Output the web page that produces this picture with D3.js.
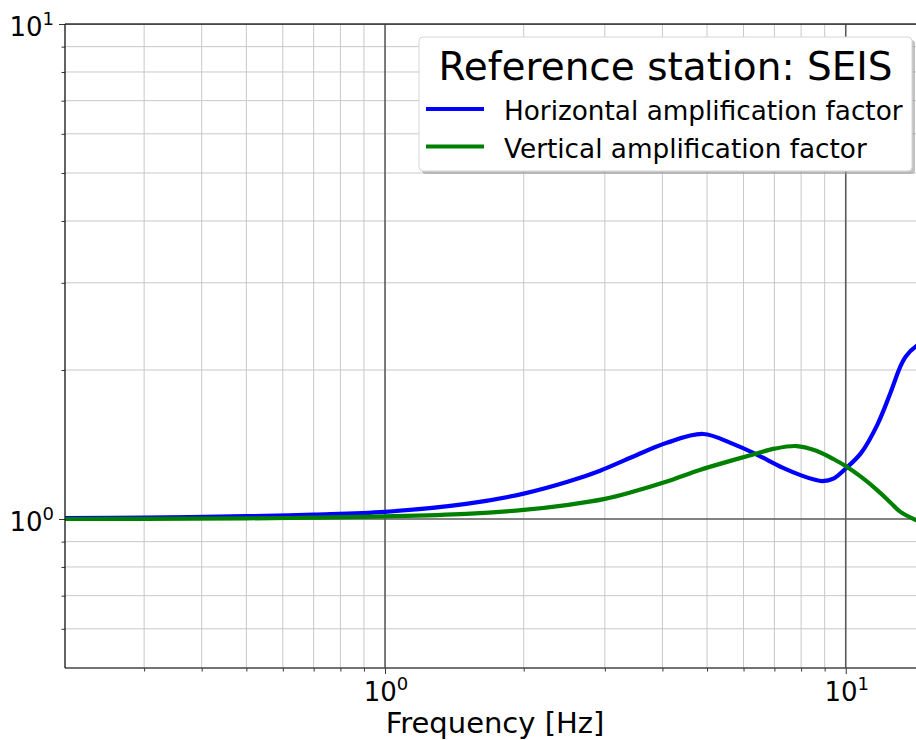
<!DOCTYPE html>
<html><head><meta charset="utf-8">
<script src="https://cdn.jsdelivr.net/npm/d3@7"></script>
<style>
body{margin:0;background:#fff;}
text{font-family:"DejaVu Sans",sans-serif;fill:#000;}
</style>
</head><body>
<svg id="c" width="916" height="740"></svg>
<script>
// ---- data ----
const freqH = [0.2, 0.3, 0.5, 0.7, 1.0, 1.5, 2.0, 2.5, 2.93, 3.45, 4.09, 4.9, 5.69, 6.38, 7.29, 8.0, 8.5, 8.9, 9.4, 10.05, 10.8, 11.7, 12.5, 13.1, 13.5, 14.2, 14.9];
const ampH  = [1.004, 1.007, 1.013, 1.021, 1.034, 1.073, 1.125, 1.19, 1.252, 1.336, 1.425, 1.485, 1.418, 1.352, 1.27, 1.225, 1.203, 1.193, 1.206, 1.27, 1.36, 1.548, 1.797, 2.02, 2.13, 2.23, 2.27];
const freqV = [0.2, 0.3, 0.5, 0.7, 1.0, 1.5, 2.0, 2.5, 3.0, 3.45, 4.09, 4.82, 5.69, 6.38, 7.0, 7.82, 8.6, 9.4, 10.05, 10.8, 11.7, 12.5, 13.1, 14.2, 14.9];
const ampV  = [1.0, 1.001, 1.003, 1.006, 1.012, 1.024, 1.043, 1.068, 1.098, 1.135, 1.19, 1.256, 1.315, 1.355, 1.387, 1.404, 1.375, 1.322, 1.275, 1.216, 1.144, 1.08, 1.036, 0.995, 0.978];
const xMajorTicks = [1, 10];
const xMinorTicks = [0.3, 0.4, 0.5, 0.6, 0.7, 0.8, 0.9, 2, 3, 4, 5, 6, 7, 8, 9];
const yMajorTicks = [1, 10];
const yMinorTicks = [0.6, 0.7, 0.8, 0.9, 2, 3, 4, 5, 6, 7, 8, 9];
const majorExp = ["0", "1"];
const legendTitle = "Reference station: SEIS";
const seriesNames = ["Horizontal amplification factor", "Vertical amplification factor"];
const seriesColors = ["#0000ff", "#008000"];
const xLabel = "Frequency [Hz]";

// ---- layout ----
const L = 65, R = 925, T = 24, B = 668;
const svg = d3.select("#c");
const x = d3.scaleLog().domain([0.202, 14.86]).range([L, R]);
const y = d3.scaleLog().domain([0.5, 10]).range([B, T]);

svg.append("defs").append("clipPath").attr("id", "clip")
  .append("rect").attr("x", L).attr("y", T).attr("width", R - L).attr("height", B - T);

// grid
const g = svg.append("g").attr("clip-path", "url(#clip)");
g.selectAll(".xmin").data(xMinorTicks).join("line")
  .attr("x1", d => x(d)).attr("x2", d => x(d)).attr("y1", T).attr("y2", B)
  .attr("stroke", "#c8c8c8").attr("stroke-width", 1);
g.selectAll(".ymin").data(yMinorTicks).join("line")
  .attr("x1", L).attr("x2", R).attr("y1", d => y(d)).attr("y2", d => y(d))
  .attr("stroke", "#c8c8c8").attr("stroke-width", 1);
g.selectAll(".xmaj").data(xMajorTicks).join("line")
  .attr("x1", d => x(d)).attr("x2", d => x(d)).attr("y1", T).attr("y2", B)
  .attr("stroke", "#5a5a5a").attr("stroke-width", 1.6);
g.selectAll(".ymaj").data(yMajorTicks).join("line")
  .attr("x1", L).attr("x2", R).attr("y1", d => y(d)).attr("y2", d => y(d))
  .attr("stroke", "#5a5a5a").attr("stroke-width", 1.6);

// curves
const line = d3.line().curve(d3.curveCatmullRom.alpha(0.5));
const series = [
  {f: freqH, a: ampH, c: seriesColors[0]},
  {f: freqV, a: ampV, c: seriesColors[1]}
];
series.forEach(s => {
  g.append("path")
    .attr("d", line(s.f.map((f, i) => [x(f), y(s.a[i])])))
    .attr("fill", "none").attr("stroke", s.c).attr("stroke-width", 4.2)
    .attr("stroke-linejoin", "round").attr("stroke-linecap", "butt");
});

// axes (ticks)
const xMinAx = svg.append("g").attr("transform", `translate(0,${B})`)
  .call(d3.axisBottom(x).tickValues(xMinorTicks).tickSize(3.5).tickFormat(() => ""));
const xMajAx = svg.append("g").attr("transform", `translate(0,${B})`)
  .call(d3.axisBottom(x).tickValues(xMajorTicks).tickSize(6).tickFormat(() => ""));
const yMinAx = svg.append("g").attr("transform", `translate(${L},0)`)
  .call(d3.axisLeft(y).tickValues(yMinorTicks).tickSize(3.5).tickFormat(() => ""));
const yMajAx = svg.append("g").attr("transform", `translate(${L},0)`)
  .call(d3.axisLeft(y).tickValues(yMajorTicks).tickSize(6).tickFormat(() => ""));
[xMinAx, xMajAx, yMinAx, yMajAx].forEach(a => {
  a.select(".domain").remove();
  a.selectAll(".tick line").attr("stroke", "#333").attr("stroke-width", 1);
});

// spines
svg.append("line").attr("x1", L).attr("x2", R).attr("y1", B).attr("y2", B)
  .attr("stroke", "#444").attr("stroke-width", 1.4);
svg.append("line").attr("x1", L).attr("x2", R).attr("y1", T).attr("y2", T)
  .attr("stroke", "#333").attr("stroke-width", 1.4);
svg.append("line").attr("x1", L).attr("x2", L).attr("y1", T).attr("y2", B)
  .attr("stroke", "#222").attr("stroke-width", 1.4);

// tick labels with superscripts
function sciLabel(sel, exp) {
  sel.append("tspan").attr("font-size", 26).text("10");
  sel.append("tspan").attr("font-size", 18).attr("dy", -11).text(exp);
}
xMajorTicks.forEach((v, i) => {
  const t = svg.append("text").attr("x", x(v) + 1).attr("y", B + 33).attr("text-anchor", "middle");
  sciLabel(t, majorExp[i]);
});
yMajorTicks.forEach((v, i) => {
  const t = svg.append("text").attr("x", L - 11).attr("y", y(v) + 12).attr("text-anchor", "end");
  sciLabel(t, majorExp[i]);
});

// axis label
svg.append("text").attr("x", (L + R) / 2).attr("y", 733).attr("text-anchor", "middle")
  .attr("font-size", 29).text(xLabel);

// legend
const lg = svg.append("g");
const bx = 419, by = 37, bw = 493, bh = 134;
lg.append("rect").attr("x", bx + 3).attr("y", by + 3).attr("width", bw).attr("height", bh)
  .attr("rx", 4).attr("fill", "#9a9a9a").attr("opacity", 0.6);
lg.append("rect").attr("x", bx).attr("y", by).attr("width", bw).attr("height", bh)
  .attr("rx", 4).attr("fill", "#fff").attr("stroke", "#d6d6d6").attr("stroke-width", 1);
lg.append("text").attr("x", bx + bw / 2).attr("y", 80).attr("text-anchor", "middle")
  .attr("font-size", 39).text(legendTitle);
seriesNames.forEach((n, i) => {
  const ly = 109 + i * 37.5;
  lg.append("line").attr("x1", 426).attr("x2", 484).attr("y1", ly).attr("y2", ly)
    .attr("stroke", seriesColors[i]).attr("stroke-width", 4);
  lg.append("text").attr("x", 504).attr("y", ly + 11).attr("font-size", 26.3).text(n);
});
</script>
</body></html>
